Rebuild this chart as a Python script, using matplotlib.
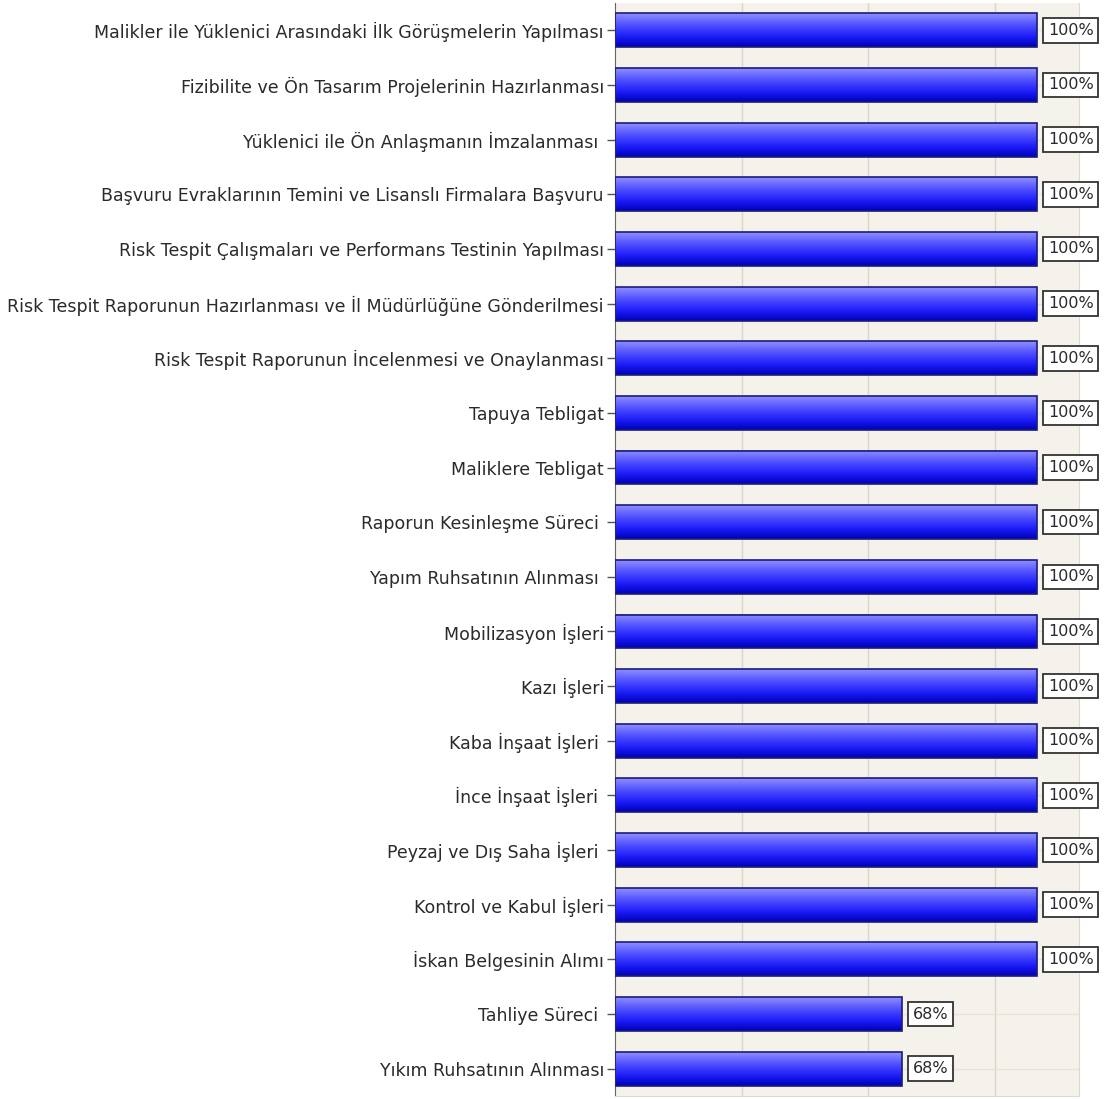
import numpy as np
import matplotlib.pyplot as plt
from matplotlib.colors import LinearSegmentedColormap

labels = [
    "Malikler ile Yüklenici Arasındaki İlk Görüşmelerin Yapılması",
    "Fizibilite ve Ön Tasarım Projelerinin Hazırlanması",
    "Yüklenici ile Ön Anlaşmanın İmzalanması ",
    "Başvuru Evraklarının Temini ve Lisanslı Firmalara Başvuru",
    "Risk Tespit Çalışmaları ve Performans Testinin Yapılması",
    "Risk Tespit Raporunun Hazırlanması ve İl Müdürlüğüne Gönderilmesi",
    "Risk Tespit Raporunun İncelenmesi ve Onaylanması",
    "Tapuya Tebligat",
    "Maliklere Tebligat",
    "Raporun Kesinleşme Süreci ",
    "Yapım Ruhsatının Alınması ",
    "Mobilizasyon İşleri",
    "Kazı İşleri",
    "Kaba İnşaat İşleri ",
    "İnce İnşaat İşleri ",
    "Peyzaj ve Dış Saha İşleri ",
    "Kontrol ve Kabul İşleri",
    "İskan Belgesinin Alımı",
    "Tahliye Süreci ",
    "Yıkım Ruhsatının Alınması",
]
values = [100, 100, 100, 100, 100, 100, 100, 100, 100, 100,
          100, 100, 100, 100, 100, 100, 100, 100, 68, 68]

plt.rcParams['font.family'] = ['DejaVu Sans']

fig = plt.figure(figsize=(11.14, 10.99), dpi=100)
ax = fig.add_axes([615 / 1114, 3 / 1099, (1079 - 615) / 1114, (1096 - 3) / 1099])

n = len(labels)
y = np.arange(n)
h = 0.62

ax.set_facecolor('#f4f2ea')

# grid
for gx in [30, 60, 90]:
    ax.axvline(gx, color='#d9d7cb', lw=1, zorder=0)
for gy in y:
    ax.axhline(gy, color='#e6e4da', lw=1, zorder=0)

cmap = LinearSegmentedColormap.from_list(
    'b', [(0, '#8e8eff'), (0.35, '#5050ff'), (0.7, '#1c1cf8'), (1, '#0000b8')])
grad = np.linspace(0, 1, 64).reshape(-1, 1)

bars = ax.barh(y, values, height=h, color='none', edgecolor='#1c1c78', lw=1.2, zorder=3)
for v, yy in zip(values, y):
    ax.imshow(grad, cmap=cmap, aspect='auto', zorder=2,
              extent=[0, v, yy + h / 2, yy - h / 2], interpolation='bilinear')
    ax.text(v + 2.6, yy, f"{v}%", va='center', ha='left', fontsize=11.5, color='#2a2a2a',
            zorder=4, clip_on=False,
            bbox=dict(boxstyle='square,pad=0.3', fc='white', ec='#333333', lw=1.3))
ax.set_xlim(0, 110)
ax.set_ylim(n - 0.5, -0.5)

ax.set_yticks(y)
ax.set_yticklabels(labels, fontsize=12.5, color='#2a2a2a')
ax.set_xticks([])
ax.tick_params(axis='y', length=6, width=1, color='#555555', pad=2)

for s in ['top', 'bottom', 'right']:
    ax.spines[s].set_color('#dcdacd')
ax.spines['top'].set_visible(False)
ax.spines['left'].set_color('#666666')

fig.savefig('out.png', dpi=100)
